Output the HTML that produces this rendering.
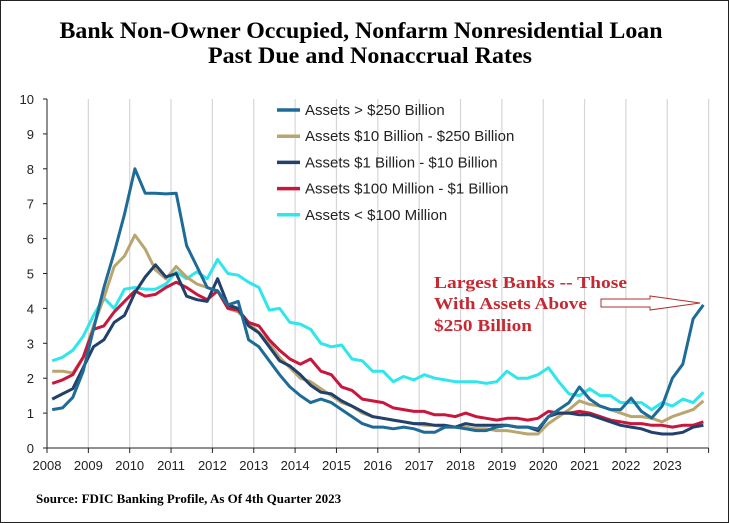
<!DOCTYPE html>
<html><head><meta charset="utf-8"><style>
html,body{margin:0;padding:0;background:#fff}
svg{display:block}
</style></head><body>
<svg id="chart" width="729" height="523" viewBox="0 0 729 523" xmlns="http://www.w3.org/2000/svg">
<rect x="0.5" y="0.5" width="728" height="522" fill="#fff" stroke="#222" stroke-width="1"/>
<text x="361" y="38" text-anchor="middle" font-family="Liberation Serif" font-weight="bold" font-size="23" textLength="603" lengthAdjust="spacingAndGlyphs">Bank Non-Owner Occupied, Nonfarm Nonresidential Loan</text>
<text x="370" y="63" text-anchor="middle" font-family="Liberation Serif" font-weight="bold" font-size="23" textLength="324" lengthAdjust="spacingAndGlyphs">Past Due and Nonaccrual Rates</text>
<g id="grid"></g>
<g id="axes"></g>
<g id="series"></g>
<g id="legend"></g>
<g font-family="Liberation Serif" font-weight="bold" font-size="17" fill="#c62832">
<text x="434" y="288" textLength="193" lengthAdjust="spacingAndGlyphs">Largest Banks -- Those</text>
<text x="434" y="309" textLength="153" lengthAdjust="spacingAndGlyphs">With Assets Above</text>
<text x="434" y="331" textLength="98" lengthAdjust="spacingAndGlyphs">$250 Billion</text>
</g>
<path d="M601,299 L650,299 L650,296 L700,303 L650,310 L650,307 L601,307 Z" fill="#fff" stroke="#b03030" stroke-width="1"/>
<text x="36" y="503" font-family="Liberation Serif" font-weight="bold" font-size="13">Source: FDIC Banking Profile, As Of 4th Quarter 2023</text>
</svg>
<script>
const years=[2008,2009,2010,2011,2012,2013,2014,2015,2016,2017,2018,2019,2020,2021,2022,2023];
const yTicks=[0,1,2,3,4,5,6,7,8,9,10];
const seriesNames=["Assets > $250 Billion","Assets  $10 Billion - $250 Billion","Assets  $1 Billion - $10 Billion","Assets  $100 Million - $1 Billion","Assets < $100 Million"];
const seriesColors=["#1f6b98","#b8a56f","#21406b","#c8173d","#2ee6ec"];
const large=[1.1,1.15,1.45,2.2, 3.4,4.6,5.6,6.7, 8.0,7.3,7.3,7.28, 7.3,5.8,5.2,4.6, 4.5,4.1,4.2,3.1, 2.9,2.5,2.1,1.75, 1.5,1.3,1.4,1.3, 1.1,0.9,0.7,0.6, 0.6,0.55,0.6,0.55, 0.45,0.45,0.6,0.6, 0.55,0.5,0.5,0.6, 0.65,0.6,0.6,0.55, 0.9,1.1,1.3,1.75, 1.4,1.2,1.1,1.1, 1.43,1.05,0.86,1.2, 2.0,2.4,3.7,4.1];
const regional=[2.2,2.2,2.15,2.6, 3.5,4.3,5.2,5.5, 6.1,5.7,5.1,4.85, 5.2,4.9,4.7,4.6, 4.5,4.0,3.9,3.6, 3.3,3.0,2.6,2.3, 2.0,1.9,1.7,1.5, 1.3,1.2,1.0,0.9, 0.85,0.8,0.75,0.7, 0.65,0.65,0.6,0.6, 0.6,0.55,0.55,0.5, 0.5,0.45,0.4,0.4, 0.7,0.9,1.1,1.35, 1.25,1.2,1.1,1.0, 0.9,0.9,0.85,0.75, 0.9,1.0,1.1,1.35];
const community=[1.4,1.55,1.7,2.3, 2.9,3.1,3.6,3.8, 4.45,4.9,5.25,4.9, 5.0,4.35,4.25,4.2, 4.85,4.1,4.0,3.5, 3.3,2.9,2.5,2.35, 2.1,1.8,1.6,1.55, 1.35,1.2,1.05,0.9, 0.85,0.8,0.75,0.7, 0.7,0.65,0.65,0.6, 0.7,0.65,0.65,0.65, 0.65,0.6,0.6,0.5, 0.9,1.0,1.0,0.95, 0.95,0.85,0.75,0.65, 0.6,0.55,0.45,0.4, 0.4,0.45,0.6,0.65];
const small=[1.85,1.95,2.1,2.6, 3.4,3.5,3.9,4.2, 4.5,4.35,4.4,4.6, 4.75,4.6,4.4,4.25, 4.5,4.0,3.95,3.6, 3.5,3.1,2.8,2.55, 2.4,2.55,2.2,2.1, 1.75,1.65,1.4,1.35, 1.3,1.15,1.1,1.05, 1.05,0.95,0.95,0.9, 1.0,0.9,0.85,0.8, 0.85,0.85,0.8,0.85, 1.05,1.0,1.0,1.05, 1.0,0.9,0.8,0.75, 0.7,0.7,0.65,0.65, 0.6,0.65,0.65,0.75];
const tiny=[2.5,2.6,2.8,3.2, 3.8,4.3,4.0,4.55, 4.6,4.55,4.55,4.7, 5.05,4.85,5.05,4.85, 5.4,5.0,4.95,4.75, 4.6,3.95,4.0,3.6, 3.55,3.4,3.0,2.9, 2.95,2.55,2.5,2.2, 2.2,1.9,2.05,1.95, 2.1,2.0,1.95,1.9, 1.9,1.9,1.85,1.9, 2.2,2.0,2.0,2.1, 2.3,1.9,1.55,1.5, 1.7,1.5,1.5,1.3, 1.3,1.3,1.1,1.3, 1.2,1.4,1.3,1.6];
const allSeries=[large,regional,community,small,tiny];
const NS="http://www.w3.org/2000/svg";
const x0=47,yearW=41.35,yBase=448,yTop=99;
function xYear(y){return x0+(y-years[0])*yearW;}
function xQ(i){return x0+(i+0.5)*yearW/4;}
function yV(v){return yBase-(v/10)*(yBase-yTop);}
function mk(tag,attrs,parent){const e=document.createElementNS(NS,tag);for(const k in attrs)e.setAttribute(k,attrs[k]);parent.appendChild(e);return e;}
const grid=document.getElementById('grid'),axes=document.getElementById('axes'),ser=document.getElementById('series'),leg=document.getElementById('legend');
for(let k=1;k<=years.length;k++){const gx=xYear(years[0]+k);
 const l=mk('line',{x1:gx,x2:gx,y1:yTop,y2:yBase,stroke:'#d6d6d6','stroke-width':1.2},grid);
 
 }
const ya=mk('line',{x1:x0,x2:x0,y1:yTop,y2:yBase,stroke:'#222','stroke-width':1},axes);


const xa=mk('line',{x1:x0,x2:xYear(years[0]+years.length),y1:yBase,y2:yBase,stroke:'#222','stroke-width':1},axes);


yTicks.forEach(t=>{const yy=yV(t);
 mk('line',{x1:x0-4,x2:x0,y1:yy,y2:yy,stroke:'#222'},axes);
 const tx=mk('text',{x:x0-13,y:yy+5,'text-anchor':'end','font-family':'Liberation Sans','font-size':13,fill:'#222'},axes);
 tx.textContent=t;
 
 });
years.concat([years[years.length-1]+1]).forEach((yr,i)=>{const xx=xYear(yr);
 mk('line',{x1:xx,x2:xx,y1:yBase,y2:yBase+5,stroke:'#222'},axes);
 if(i<years.length){const tx=mk('text',{x:xx,y:yBase+22,'text-anchor':'middle','font-family':'Liberation Sans','font-size':13,fill:'#222'},axes);
 tx.textContent=yr;
 
 }});
const drawOrder=[4,1,3,2,0];
drawOrder.forEach(s=>{const d=allSeries[s].map((v,i)=>(i?'L':'M')+xQ(i).toFixed(1)+','+yV(v).toFixed(1)).join(' ');
 const p=mk('path',{d:d,fill:'none',stroke:seriesColors[s],'stroke-width':3,'stroke-linejoin':'round'},ser);
 
 });
seriesNames.forEach((n,i)=>{const yy=110+i*26.2;
 const g=mk('g',{},leg);
 
 
 mk('line',{x1:277,x2:300,y1:yy,y2:yy,stroke:seriesColors[i],'stroke-width':3.5},g);
 const tx=mk('text',{x:305,y:yy+5,'font-family':'Liberation Sans','font-size':15,fill:'#222'},g);
 tx.textContent=n;});
</script>
</body></html>
